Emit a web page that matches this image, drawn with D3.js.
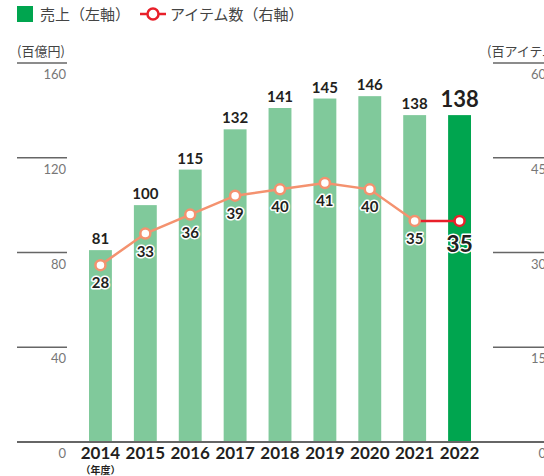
<!DOCTYPE html>
<html>
<head>
<meta charset="utf-8">
<script src="https://cdn.jsdelivr.net/npm/d3@7"></script>
<style>
  body { margin: 0; background: #fff; }
  svg { display: block; }
</style>
</head>
<body>
<div class="graphContainer"></div>
<script>
// data
var years = ["2014", "2015", "2016", "2017", "2018", "2019", "2020", "2021", "2022"];
var sales = [81, 100, 115, 132, 141, 145, 146, 138, 138];      // 百億円 (left)
var items = [28, 33, 36, 39, 40, 41, 40, 35, 35];              // 百アイテム (right)
var leftTicks = [0, 40, 80, 120, 160];
var rightTicks = [0, 15, 30, 45, 60];

var w = 544, h = 476;
var numFont = "Lato, 'Noto Sans', sans-serif";
var jpFont = "'Noto Sans CJK JP', sans-serif";

var svg = d3.select(".graphContainer")
    .append("svg")
    .attr("width", w)
    .attr("height", h);

var x = d3.scaleBand()
    .domain(years)
    .range([78, 482])
    .paddingInner(0.49)
    .paddingOuter(0.245);

var yL = d3.scaleLinear().domain([0, 160]).range([442, 63]);
var yR = d3.scaleLinear().domain([0, 60]).range([442, 63]);

var last = years.length - 1;

// left axis ticks: short line with label below
var leftAxis = svg.append("g");
leftAxis.selectAll("line")
    .data(leftTicks.filter(function (d) { return d > 0; }))
    .enter().append("line")
    .attr("x1", 17).attr("x2", 67)
    .attr("y1", function (d) { return yL(d); })
    .attr("y2", function (d) { return yL(d); })
    .attr("stroke", "#666").attr("stroke-width", 1.5);
leftAxis.selectAll("text")
    .data(leftTicks)
    .enter().append("text")
    .attr("x", 66)
    .attr("y", function (d) { return yL(d) + 16; })
    .attr("text-anchor", "end")
    .attr("font-family", numFont)
    .attr("font-size", 13)
    .attr("fill", "#777")
    .text(function (d) { return d; });

// right axis ticks (labels run off the right edge like the original)
var rightAxis = svg.append("g");
rightAxis.selectAll("line")
    .data(rightTicks.filter(function (d) { return d > 0; }))
    .enter().append("line")
    .attr("x1", 493).attr("x2", 544)
    .attr("y1", function (d) { return yR(d); })
    .attr("y2", function (d) { return yR(d); })
    .attr("stroke", "#666").attr("stroke-width", 1.5);
rightAxis.selectAll("text")
    .data(rightTicks)
    .enter().append("text")
    .attr("x", 546)
    .attr("y", function (d) { return yR(d) + 16; })
    .attr("text-anchor", "end")
    .attr("font-family", numFont)
    .attr("font-size", 13)
    .attr("fill", "#777")
    .text(function (d) { return d; });

// unit labels
svg.append("text")
    .attr("x", 17).attr("y", 56)
    .attr("font-family", jpFont).attr("font-size", 13).attr("fill", "#444")
    .text("(百億円)");
svg.append("text")
    .attr("x", 487).attr("y", 56)
    .attr("font-family", jpFont).attr("font-size", 13).attr("fill", "#444")
    .text("(百アイテム)");

// bars
svg.selectAll("rect.bar")
    .data(sales)
    .enter().append("rect")
    .attr("class", "bar")
    .attr("x", function (d, i) { return x(years[i]); })
    .attr("y", function (d) { return yL(d); })
    .attr("width", x.bandwidth())
    .attr("height", function (d) { return yL(0) - yL(d); })
    .attr("fill", function (d, i) { return i == last ? "#00a54f" : "#80c99b"; });

// bottom axis line
svg.append("line")
    .attr("x1", 17).attr("x2", 544)
    .attr("y1", 442).attr("y2", 442)
    .attr("stroke", "#666").attr("stroke-width", 2);

// bar value labels
svg.selectAll("text.barval")
    .data(sales)
    .enter().append("text")
    .attr("class", "barval")
    .attr("x", function (d, i) { return x(years[i]) + x.bandwidth() / 2; })
    .attr("y", function (d, i) { return yL(d) - (i == last ? 8 : 6); })
    .attr("text-anchor", "middle")
    .attr("font-family", numFont)
    .attr("font-weight", "bold")
    .attr("font-size", function (d, i) { return i == last ? 22 : 15; })
    .attr("fill", "#231f20")
    .text(function (d) { return d; });

// item line
var cx = function (d, i) { return x(years[i]) + x.bandwidth() / 2; };
var line = d3.line()
    .x(function (d) { return d[0]; })
    .y(function (d) { return yR(d[1]); });
var pts = items.map(function (d, i) { return [cx(d, i), d]; });

svg.append("path")
    .attr("d", line(pts.slice(0, last)))
    .attr("fill", "none")
    .attr("stroke", "#f4926f")
    .attr("stroke-width", 2.5);
svg.append("path")
    .attr("d", line(pts.slice(last - 1)))
    .attr("fill", "none")
    .attr("stroke", "#e8202a")
    .attr("stroke-width", 2.5);

svg.selectAll("circle.pt")
    .data(items)
    .enter().append("circle")
    .attr("class", "pt")
    .attr("cx", cx)
    .attr("cy", function (d) { return yR(d); })
    .attr("r", 5)
    .attr("fill", "#fff")
    .attr("stroke", function (d, i) { return i == last ? "#e8202a" : "#f4926f"; })
    .attr("stroke-width", 2.5);

svg.selectAll("text.ptval")
    .data(items)
    .enter().append("text")
    .attr("class", "ptval")
    .attr("x", cx)
    .attr("y", function (d, i) { return yR(d) + (i == last ? 31 : 23); })
    .attr("text-anchor", "middle")
    .attr("font-family", numFont)
    .attr("font-weight", "bold")
    .attr("font-size", function (d, i) { return i == last ? 23 : 15; })
    .attr("fill", "#231f20")
    .attr("stroke", "#fff")
    .attr("stroke-width", 3)
    .attr("paint-order", "stroke")
    .attr("stroke-linejoin", "round")
    .text(function (d) { return d; });

// year labels
svg.selectAll("text.year")
    .data(years)
    .enter().append("text")
    .attr("class", "year")
    .attr("x", function (d) { return x(d) + x.bandwidth() / 2; })
    .attr("y", 459)
    .attr("text-anchor", "middle")
    .attr("font-family", numFont)
    .attr("font-weight", "bold")
    .attr("font-size", 17)
    .attr("fill", "#231f20")
    .text(function (d) { return d; });

svg.append("text")
    .attr("x", x(years[0]) + x.bandwidth() / 2)
    .attr("y", 474)
    .attr("text-anchor", "middle")
    .attr("font-family", jpFont)
    .attr("font-weight", "bold")
    .attr("font-size", 10)
    .attr("fill", "#231f20")
    .text("（年度）");

// legend
var legend = svg.append("g");
legend.append("rect")
    .attr("x", 17).attr("y", 6).attr("width", 16).attr("height", 16)
    .attr("fill", "#00a54f");
legend.append("text")
    .attr("x", 40).attr("y", 20)
    .attr("font-family", jpFont).attr("font-size", 15).attr("fill", "#444")
    .text("売上（左軸）");
legend.append("line")
    .attr("x1", 140).attr("x2", 166).attr("y1", 14).attr("y2", 14)
    .attr("stroke", "#e8202a").attr("stroke-width", 2.5);
legend.append("circle")
    .attr("cx", 153).attr("cy", 14).attr("r", 5.5)
    .attr("fill", "#fff").attr("stroke", "#e8202a").attr("stroke-width", 2.5);
legend.append("text")
    .attr("x", 170).attr("y", 20)
    .attr("font-family", jpFont).attr("font-size", 15).attr("fill", "#444")
    .text("アイテム数（右軸）");
</script>
</body>
</html>
